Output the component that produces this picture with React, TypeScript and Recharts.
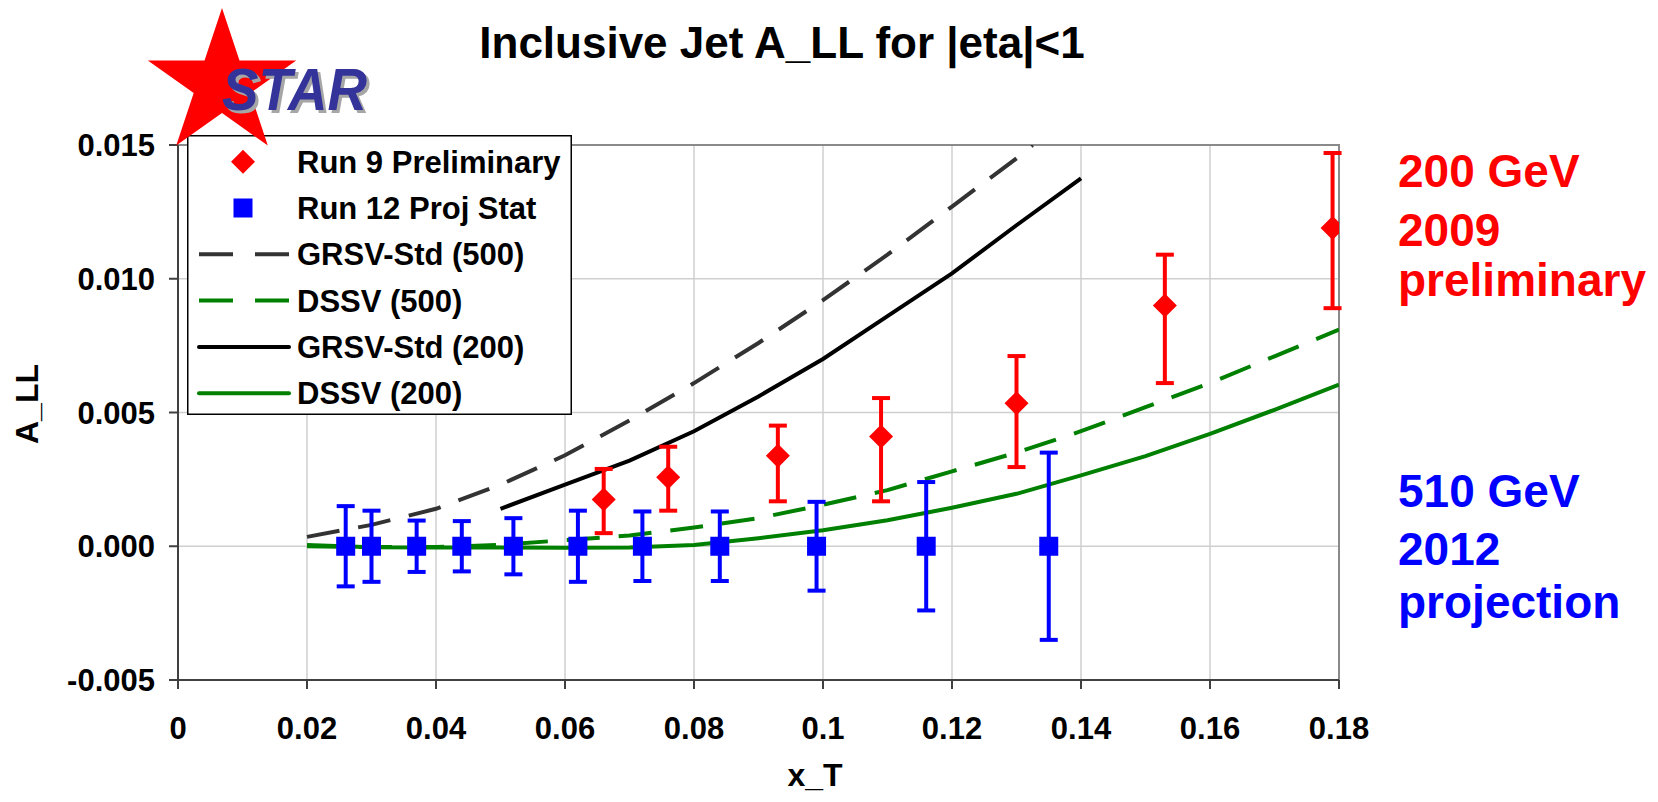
import React from "react";
import {
  ComposedChart,
  Line,
  Scatter,
  ErrorBar,
  XAxis,
  YAxis,
  CartesianGrid,
  ReferenceArea,
  Legend,
} from "recharts";

const FONT = "'Liberation Sans', Arial, sans-serif";

const X_TICKS = [0, 0.02, 0.04, 0.06, 0.08, 0.1, 0.12, 0.14, 0.16, 0.18];
const Y_TICKS = [-0.005, 0, 0.005, 0.01, 0.015];

// Run 9 preliminary, 200 GeV (asymmetric errors)
const run9X = [0.066, 0.076, 0.093, 0.109, 0.13, 0.153, 0.179];
const run9Y = [0.00175, 0.00258, 0.00338, 0.0041, 0.00535, 0.009, 0.0119];
const run9ErrLow = [0.00126, 0.00125, 0.0017, 0.00242, 0.00239, 0.0029, 0.003];
const run9ErrHigh = [0.00114, 0.00114, 0.00113, 0.00144, 0.00176, 0.0019, 0.0028];

// Run 12 projected stat errors, 510 GeV
const run12X = [0.026, 0.03, 0.037, 0.044, 0.052, 0.062, 0.072, 0.084, 0.099, 0.116, 0.135];
const run12Y = [0, 0, 0, 0, 0, 0, 0, 0, 0, 0, 0];
const run12Err = [0.0015, 0.00133, 0.00096, 0.00094, 0.00105, 0.00133, 0.0013, 0.0013, 0.00166, 0.0024, 0.0035];

// theory curves
const grsv500X = [0.02, 0.03, 0.04, 0.05, 0.06, 0.07, 0.08, 0.09, 0.1, 0.11, 0.12, 0.13, 0.1325];
const grsv500Y = [0.00035, 0.0008, 0.0014, 0.0023, 0.0034, 0.0047, 0.0061, 0.0076, 0.0092, 0.0109, 0.0127, 0.0145, 0.015];

const dssv500X = [0.02, 0.03, 0.04, 0.05, 0.06, 0.07, 0.08, 0.09, 0.1, 0.11, 0.12, 0.13, 0.14, 0.15, 0.16, 0.17, 0.18];
const dssv500Y = [0, -0.00003, -0.00003, 0.00005, 0.00023, 0.0004, 0.0007, 0.00105, 0.00155, 0.0021, 0.0028, 0.0035, 0.0043, 0.0052, 0.0061, 0.0071, 0.0081];

const grsv200X = [0.05, 0.06, 0.07, 0.08, 0.09, 0.1, 0.11, 0.12, 0.13, 0.14];
const grsv200Y = [0.0014, 0.0023, 0.0032, 0.0043, 0.0056, 0.007, 0.0086, 0.0102, 0.012, 0.01375];

const dssv200X = [0.02, 0.03, 0.04, 0.05, 0.06, 0.07, 0.08, 0.09, 0.1, 0.11, 0.12, 0.13, 0.14, 0.15, 0.16, 0.17, 0.18];
const dssv200Y = [0.00005, -0.00004, -0.00005, -0.00005, -0.00006, -0.00005, 0.00005, 0.0003, 0.0006, 0.00097, 0.00144, 0.00196, 0.00265, 0.00337, 0.0042, 0.0051, 0.00604];

const LEGEND_ITEMS = [
  { name: "Run 9 Preliminary", kind: "diamond", color: "#ff0000" },
  { name: "Run 12 Proj Stat", kind: "square", color: "#0000ff" },
  { name: "GRSV-Std (500)", kind: "dash", color: "#333333" },
  { name: "DSSV (500)", kind: "dash", color: "#008000" },
  { name: "GRSV-Std (200)", kind: "line", color: "#000000" },
  { name: "DSSV (200)", kind: "line", color: "#008000" },
];

const toPoints = (xs: number[], ys: number[]) => xs.map((x, i) => ({ x, y: ys[i] }));

const run9Data = run9X.map((x, i) => ({ x, y: run9Y[i], err: [run9ErrLow[i], run9ErrHigh[i]] }));
const run12Data = run12X.map((x, i) => ({ x, y: run12Y[i], err: run12Err[i] }));

function Diamond(props: any) {
  const { cx, cy } = props;
  if (cx == null || cy == null) return null;
  const r = 12;
  return (
    <polygon
      points={`${cx},${cy - r} ${cx + r},${cy} ${cx},${cy + r} ${cx - r},${cy}`}
      fill="#ff0000"
    />
  );
}

function Square(props: any) {
  const { cx, cy } = props;
  if (cx == null || cy == null) return null;
  return <rect x={cx - 9.5} y={cy - 9.5} width={19} height={19} fill="#0000ff" />;
}

function LegendBox() {
  const w = 385;
  const h = 280;
  return (
    <svg width={w} height={h} style={{ display: "block" }}>
      <rect x={0.75} y={0.75} width={w - 1.5} height={h - 1.5} fill="#fff" stroke="#000" strokeWidth={1.5} />
      {LEGEND_ITEMS.map((it, i) => {
        const cy = 26.7 + i * 46.3;
        let sym: React.ReactNode = null;
        if (it.kind === "diamond") {
          sym = <Diamond cx={56} cy={cy} />;
        } else if (it.kind === "square") {
          sym = <Square cx={56} cy={cy} />;
        } else {
          sym = (
            <line
              x1={12}
              x2={102}
              y1={cy}
              y2={cy}
              stroke={it.color}
              strokeWidth={4}
              strokeDasharray={it.kind === "dash" ? "34 22" : undefined}
              strokeLinecap={it.kind === "line" ? "round" : "butt"}
            />
          );
        }
        return (
          <g key={it.name}>
            {sym}
            <text x={110} y={cy + 11} fontFamily={FONT} fontWeight={700} fontSize={31} fill="#000">
              {it.name}
            </text>
          </g>
        );
      })}
    </svg>
  );
}

// five-point star, slightly wider than tall like the logo
function starPoints(cx: number, cy: number, rx: number, ry: number, inner: number) {
  const pts: string[] = [];
  for (let i = 0; i < 10; i++) {
    const k = i % 2 === 0 ? 1 : inner;
    const a = (Math.PI / 5) * i - Math.PI / 2;
    pts.push(`${(cx + rx * k * Math.cos(a)).toFixed(1)},${(cy + ry * k * Math.sin(a)).toFixed(1)}`);
  }
  return pts.join(" ");
}

const tickStyle = { fill: "#000", fontSize: 31, fontWeight: 700, fontFamily: FONT };
const axisStroke = { stroke: "#404040", strokeWidth: 2 };

export default function App() {
  return (
    <div style={{ position: "absolute", left: 0, top: 0, width: 1658, height: 802, background: "#fff" }}>
      <ComposedChart
        width={1658}
        height={802}
        margin={{ top: 145, right: 319, bottom: 62, left: 0 }}
      >
        <CartesianGrid stroke="#cfcfcf" strokeWidth={1.5} />
        <ReferenceArea
          x1={0}
          x2={0.18}
          y1={-0.005}
          y2={0.015}
          fill="#fff"
          fillOpacity={0}
          stroke="#8a8a8a"
          strokeWidth={2}
        />
        <XAxis
          type="number"
          dataKey="x"
          domain={[0, 0.18]}
          ticks={X_TICKS}
          allowDataOverflow
          height={60}
          tick={tickStyle}
          tickSize={9}
          tickMargin={28}
          axisLine={axisStroke}
          tickLine={axisStroke}
          tickFormatter={(v: number) => (v === 0 ? "0" : String(Number(v.toFixed(2))))}
        />
        <YAxis
          type="number"
          domain={[-0.005, 0.015]}
          ticks={Y_TICKS}
          allowDataOverflow
          width={178}
          tick={tickStyle}
          tickSize={9}
          tickMargin={14}
          axisLine={axisStroke}
          tickLine={axisStroke}
          tickFormatter={(v: number) => v.toFixed(3)}
        />
        <Line
          data={toPoints(dssv200X, dssv200Y)}
          dataKey="y"
          type="linear"
          stroke="#008000"
          strokeWidth={4}
          dot={false}
          isAnimationActive={false}
        />
        <Line
          data={toPoints(dssv500X, dssv500Y)}
          dataKey="y"
          type="linear"
          stroke="#008000"
          strokeWidth={4}
          strokeDasharray="33 19"
          dot={false}
          isAnimationActive={false}
        />
        <Line
          data={toPoints(grsv500X, grsv500Y)}
          dataKey="y"
          type="linear"
          stroke="#333333"
          strokeWidth={4}
          strokeDasharray="33 19"
          dot={false}
          isAnimationActive={false}
        />
        <Line
          data={toPoints(grsv200X, grsv200Y)}
          dataKey="y"
          type="linear"
          stroke="#000000"
          strokeWidth={4}
          dot={false}
          isAnimationActive={false}
        />
        <Scatter data={run12Data} dataKey="y" shape={Square} isAnimationActive={false}>
          <ErrorBar dataKey="err" direction="y" width={9} stroke="#0000ff" strokeWidth={4} />
        </Scatter>
        <Scatter data={run9Data} dataKey="y" shape={Diamond} isAnimationActive={false}>
          <ErrorBar dataKey="err" direction="y" width={9} stroke="#ff0000" strokeWidth={4} />
        </Scatter>
        <Legend
          layout="vertical"
          align="center"
          verticalAlign="middle"
          wrapperStyle={{ left: 187, top: 135, width: 385, height: 280 }}
          content={() => <LegendBox />}
        />
      </ComposedChart>

      <svg
        width={1658}
        height={802}
        style={{ position: "absolute", left: 0, top: 0, pointerEvents: "none" }}
      >
        <polygon points={starPoints(222, 84, 78, 76, 0.382)} fill="#ff0000" />
        <text
          x={225}
          y={113}
          fontFamily={FONT}
          fontWeight={700}
          fontStyle="italic"
          fontSize={60}
          textLength={145}
          lengthAdjust="spacingAndGlyphs"
          fill="#a6a6a6"
        >
          STAR
        </text>
        <text
          x={222}
          y={110}
          fontFamily={FONT}
          fontWeight={700}
          fontStyle="italic"
          fontSize={60}
          textLength={145}
          lengthAdjust="spacingAndGlyphs"
          fill="#333399"
        >
          STAR
        </text>
        <text x={782} y={58} textAnchor="middle" fontFamily={FONT} fontWeight={700} fontSize={44} fill="#000">
          Inclusive Jet A_LL for |eta|&lt;1
        </text>
        <text
          transform="translate(38,404) rotate(-90)"
          textAnchor="middle"
          fontFamily={FONT}
          fontWeight={700}
          fontSize={32}
          fill="#000"
        >
          A_LL
        </text>
        <text x={815} y={786} textAnchor="middle" fontFamily={FONT} fontWeight={700} fontSize={32} fill="#000">
          x_T
        </text>
        <g fontFamily={FONT} fontWeight={700} fontSize={46} fill="#ff0000">
          <text x={1398} y={187}>200 GeV</text>
          <text x={1398} y={246}>2009</text>
          <text x={1398} y={296}>preliminary</text>
        </g>
        <g fontFamily={FONT} fontWeight={700} fontSize={46} fill="#0000ff">
          <text x={1398} y={507}>510 GeV</text>
          <text x={1398} y={565}>2012</text>
          <text x={1398} y={618}>projection</text>
        </g>
      </svg>
    </div>
  );
}
